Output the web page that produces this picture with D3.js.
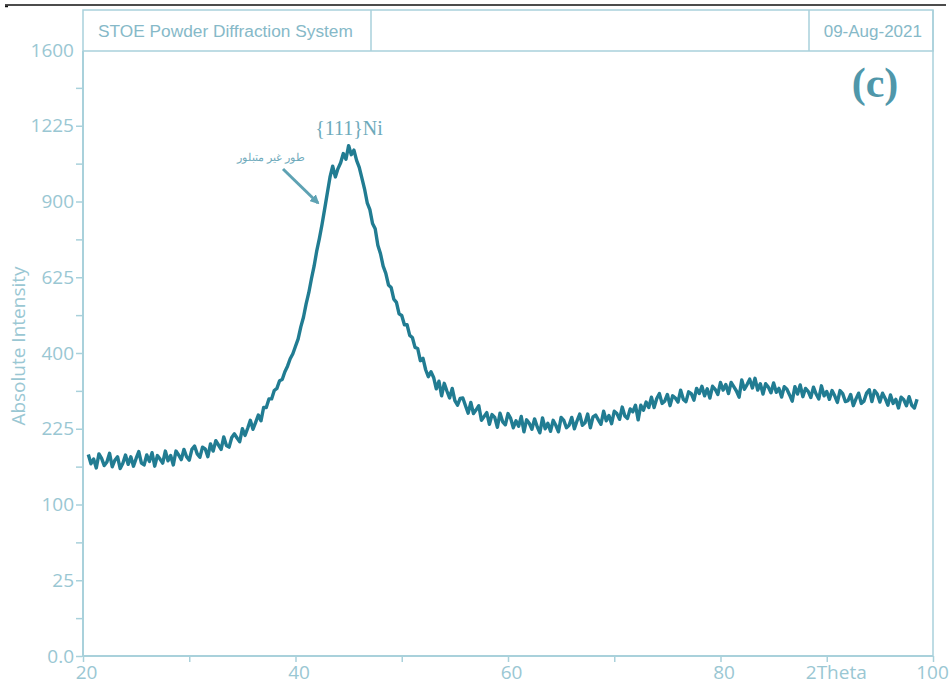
<!DOCTYPE html>
<html><head><meta charset="utf-8">
<script src="https://cdn.jsdelivr.net/npm/d3@7"></script>
<style>body{margin:0;background:#fff;} svg{display:block;}</style>
</head><body>
<svg id="chart" width="951" height="685"></svg>
<script>
// ---- data ----
const thetaStart = 20.5, thetaStep = 0.25;
const intensity = [
  177,161,
  169,154,178,170, 158,164,179,156, 167,173,153,162, 176,160,173,157,
  170,182,162,159, 176,165,180,157, 175,169,162,183, 166,175,159,183,
  176,168,186,173, 167,186,192,178, 172,190,187,173, 196,183,202,194,
  186,209,193,190, 208,215,207,200, 225,212,226,242, 224,238,253,241,
  269,269,288,288, 307,312,330,333, 352,366,385,398, 418,438,472,500,
  540,575,620,662, 715,760,812,872, 935,1000,1045,1000, 1035,1060,1100,1075,
  1135,1095,1115,1070, 1040,995,950,895, 868,815,795,735, 705,662,638,600,
  592,555,545,510, 505,478,478,448, 442,415,412,380, 386,357,340,352,
  338,311,329,295, 324,306,290,312, 284,274,289,290, 273,257,280,256,
  264,273,242,250, 258,234,254,248, 228,257,239,233, 256,246,227,241,
  230,250,219,243, 236,224,245,229, 217,247,225,236, 220,242,232,219,
  248,242,227,232, 248,225,241,255, 232,237,255,227, 249,253,243,234,
  261,241,252,235, 261,256,244,270, 251,246,266,260, 274,243,274,263,
  281,269,292,269, 289,300,278,283, 298,273,295,290, 281,308,287,282,
  304,300,285,312, 300,317,295,311, 290,317,310,298, 326,308,321,300,
  326,316,306,292, 332,310,321,334, 313,336,308,323, 299,323,315,302,
  325,303,312,292, 316,310,297,283, 316,299,320,293, 312,305,291,315,
  299,288,318,295, 305,287,307,295, 280,307,300,282, 284,298,273,288,
  301,278,283,301, 309,282,307,299, 281,301,289,274, 297,278,287,268,
  292,286,273,293, 274,268,287
];
const yTicks = [0, 25, 100, 225, 400, 625, 900, 1225, 1600];
const yTickLabels = ["0.0", "25", "100", "225", "400", "625", "900", "1225", "1600"];
const yMinorTicks = [6.25, 56.25, 156.25, 306.25, 506.25, 756.25, 1056.25, 1406.25];
const xTicks = [20, 30, 40, 50, 60, 70, 80, 90, 100];
const xTickLabels = ["20", "", "40", "", "60", "", "80", "2Theta", "100"];
const headerLeft = "STOE Powder Diffraction System";
const headerRight = "09-Aug-2021";
const yTitle = "Absolute Intensity";
const peakLabel = "{111}Ni";
const amorphousLabel = "طور غير متبلور";
const panelLabel = "(c)";

// ---- layout ----
const L = 83, R = 933, T = 51, B = 656, HT = 10;
const frameCol = "#a9d1db", textCol = "#9ac7d3", lineCol = "#217c92";

const svg = d3.select("#chart");
const x = d3.scaleLinear().domain([20, 100]).range([L, R]);
const y = d3.scaleSqrt().domain([0, 1600]).range([B, 50]);

const points = intensity.map((v, i) => [thetaStart + i * thetaStep, v]);

// top black rule
svg.append("line").attr("x1", 5).attr("x2", 946).attr("y1", 5).attr("y2", 5)
  .attr("stroke", "#111").attr("stroke-width", 1.5);
svg.append("line").attr("x1", 5).attr("x2", 8).attr("y1", 6.5).attr("y2", 6.5)
  .attr("stroke", "#111").attr("stroke-width", 1.5);

// header box
svg.append("rect").attr("x", L).attr("y", HT).attr("width", R - L).attr("height", T - HT)
  .attr("fill", "none").attr("stroke", frameCol).attr("stroke-width", 1.5);
[371, 809].forEach(xx => svg.append("line").attr("x1", xx).attr("x2", xx)
  .attr("y1", HT).attr("y2", T).attr("stroke", frameCol).attr("stroke-width", 1.5));
svg.append("text").attr("x", 98).attr("y", 37).text(headerLeft)
  .attr("font-family", "Liberation Sans, Arial, sans-serif").attr("font-size", 17.3).attr("fill", "#86b9c8");
svg.append("text").attr("x", 922).attr("y", 37).attr("text-anchor", "end").text(headerRight)
  .attr("font-family", "Liberation Sans, Arial, sans-serif").attr("font-size", 17).attr("fill", "#86b9c8");

// right frame line
svg.append("line").attr("x1", R).attr("x2", R).attr("y1", HT).attr("y2", B)
  .attr("stroke", frameCol).attr("stroke-width", 1.5);

// axes
const fontAx = "Open Sans, sans-serif";
const yAxis = svg.append("g").attr("transform", `translate(${L},0)`)
  .call(d3.axisLeft(y).tickValues(yTicks).tickSize(6).tickPadding(3)
    .tickFormat((d, i) => yTickLabels[i]));
yAxis.select(".domain").remove();
yAxis.selectAll(".tick line").attr("stroke", frameCol).attr("stroke-width", 1.5)
  .attr("x1", -1).attr("x2", -7).attr("display", d => d === 1600 ? "none" : null);
yAxis.selectAll(".tick text").attr("fill", textCol).attr("font-family", fontAx).attr("font-size", 19);

const yMinor = svg.append("g").attr("transform", `translate(${L},0)`)
  .call(d3.axisLeft(y).tickValues(yMinorTicks).tickSize(6).tickFormat(""));
yMinor.select(".domain").remove();
yMinor.selectAll(".tick line").attr("stroke", frameCol).attr("stroke-width", 1.5)
  .attr("x1", -1).attr("x2", -7);

const xAxis = svg.append("g").attr("transform", `translate(0,${B})`)
  .call(d3.axisBottom(x).tickValues(xTicks).tickSize(6).tickPadding(4)
    .tickFormat((d, i) => xTickLabels[i]));
xAxis.select(".domain").remove();
xAxis.selectAll(".tick line").attr("stroke", frameCol).attr("stroke-width", 1.5);
xAxis.selectAll(".tick text").attr("fill", textCol).attr("font-family", fontAx)
  .attr("font-size", 19).attr("dx", d => d === 100 ? -1 : d === 90 ? 9 : 3);

svg.append("line").attr("x1", L).attr("x2", L).attr("y1", T).attr("y2", B + 1)
  .attr("stroke", frameCol).attr("stroke-width", 2);
svg.append("line").attr("x1", L).attr("x2", R).attr("y1", B).attr("y2", B)
  .attr("stroke", frameCol).attr("stroke-width", 2);

// y title
svg.append("text").attr("transform", "translate(25,346) rotate(-90)").attr("text-anchor", "middle")
  .text(yTitle).attr("font-family", fontAx).attr("font-size", 19).attr("fill", textCol);

// data line
svg.append("path").datum(points)
  .attr("d", d3.line().x(d => x(d[0])).y(d => y(d[1])))
  .attr("fill", "none").attr("stroke", lineCol).attr("stroke-width", 3.4)
  .attr("stroke-linejoin", "round");

// annotations
svg.append("text").attr("x", 349).attr("y", 135).attr("text-anchor", "middle").text(peakLabel)
  .attr("font-family", "Liberation Serif, serif").attr("font-size", 20).attr("fill", "#6eaabb");
svg.append("text").attr("x", 271).attr("y", 161).attr("text-anchor", "middle").text(amorphousLabel)
  .attr("font-family", "DejaVu Serif, serif").attr("font-size", 11).attr("fill", "#6eaabb");

const defs = svg.append("defs");
defs.append("marker").attr("id", "ah").attr("viewBox", "0 0 10 10").attr("refX", 8).attr("refY", 5)
  .attr("markerWidth", 3.2).attr("markerHeight", 3.2).attr("orient", "auto")
  .append("path").attr("d", "M0,0 L10,5 L0,10 Z").attr("fill", "#5ea2b3");
svg.append("line").attr("x1", 283).attr("y1", 169).attr("x2", 318).attr("y2", 203)
  .attr("stroke", "#5ea2b3").attr("stroke-width", 3).attr("marker-end", "url(#ah)");

svg.append("text").attr("x", 875).attr("y", 97).attr("text-anchor", "middle").text(panelLabel)
  .attr("font-family", "Liberation Serif, serif").attr("font-weight", "bold")
  .attr("font-size", 42).attr("fill", "#4f97aa");
</script>
</body></html>
